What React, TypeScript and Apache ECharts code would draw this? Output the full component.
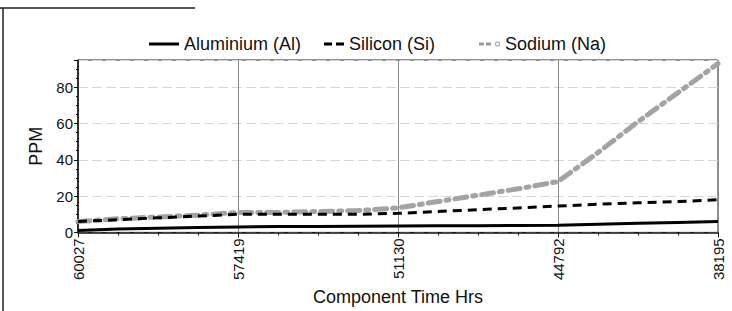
import React, { useEffect, useRef } from "react";
import * as echarts from "echarts";

const tickLabels = ["60027", "57419", "51130", "44792", "38195"];
const pointIndex = [0, 1, 2, 3, 4, 5, 6, 7, 8, 9, 10, 11, 12, 13, 14, 15, 16];
const aluminium = [1, 1.8, 2.3, 2.7, 3, 3.2, 3.3, 3.4, 3.5, 3.6, 3.7, 3.8, 4, 4.5, 5, 5.5, 6];
const silicon = [6, 7, 8, 9, 10, 10, 10, 10, 10.5, 11.5, 12.5, 13.5, 14.5, 15.5, 16.3, 17, 18];
const sodium = [6, 7.5, 8.5, 9.5, 11, 11, 11.5, 12, 13.5, 17, 20.5, 24, 28, 44, 61, 77, 93];

const FONT = "'Liberation Sans', Arial, sans-serif";

export default function App() {
  const ref = useRef<HTMLDivElement>(null);
  useEffect(() => {
    if (!ref.current) return;
    const chart = echarts.init(ref.current, undefined, { renderer: "svg" });
    const pair = (arr: number[]) => pointIndex.map((x, i) => [x, arr[i]]);
    const legendText = { fontFamily: FONT, fontSize: 18, color: "#111" };
    chart.setOption({
      animation: false,
      backgroundColor: "#fff",
      textStyle: { fontFamily: FONT },
      graphic: [
        { type: "line", shape: { x1: 3, y1: 8, x2: 3, y2: 311 }, style: { stroke: "#222", lineWidth: 1.5 } },
        { type: "line", shape: { x1: 0, y1: 8, x2: 195, y2: 8 }, style: { stroke: "#222", lineWidth: 1.5 } },
      ],
      legend: [
        {
          data: [{ name: "Aluminium (Al)", icon: "path://M0,0h30v3h-30z", itemStyle: { color: "#000" } }],
          left: 144, top: 30, itemWidth: 30, itemHeight: 3, textStyle: legendText,
        },
        {
          data: [{ name: "Silicon (Si)", icon: "path://M0,0h8v3h-8z M12,0h8v3h-8z", itemStyle: { color: "#000" } }],
          left: 319, top: 30, itemWidth: 20, itemHeight: 3, textStyle: legendText,
        },
        {
          data: [{
            name: "Sodium (Na)",
            icon: "path://M0,1h5v3h-5z M7,1h5v3h-5z M16,2.5a2.5,2.5 0 1,0 5,0a2.5,2.5 0 1,0 -5,0z M17,2.5a1.5,1.5 0 1,1 3,0a1.5,1.5 0 1,1 -3,0z",
            itemStyle: { color: "#9a9a9a" },
          }],
          left: 474, top: 30, itemWidth: 21, itemHeight: 5, textStyle: legendText,
        },
      ],
      grid: { left: 78, right: 14, top: 60, bottom: 78, show: true, borderColor: "#222", borderWidth: 1 },
      xAxis: {
        type: "value",
        min: 0,
        max: 16,
        interval: 4,
        name: "Component Time Hrs",
        nameLocation: "middle",
        nameGap: 51,
        nameTextStyle: { fontFamily: FONT, fontSize: 18, color: "#111" },
        axisLine: { lineStyle: { color: "#111", width: 1.5 } },
        axisTick: { show: true, length: 5, lineStyle: { color: "#111" } },
        minorTick: { show: true, splitNumber: 4, length: 3, lineStyle: { color: "#111" } },
        axisLabel: {
          rotate: 90,
          fontSize: 15,
          color: "#111",
          fontFamily: FONT,
          margin: 6,
          formatter: (v: number) => tickLabels[Math.round(v / 4)] ?? "",
        },
        splitLine: { show: true, lineStyle: { color: "#8a8a8a", width: 1 } },
      },
      yAxis: {
        type: "value",
        min: 0,
        max: 95,
        interval: 20,
        name: "PPM",
        nameLocation: "middle",
        nameGap: 31,
        nameTextStyle: { fontFamily: FONT, fontSize: 18, color: "#111" },
        axisLine: { show: true, lineStyle: { color: "#111", width: 1.5 } },
        axisTick: { show: true, length: 4, lineStyle: { color: "#111" } },
        minorTick: { show: true, splitNumber: 4, length: 2, lineStyle: { color: "#111" } },
        axisLabel: {
          fontSize: 15,
          color: "#111",
          fontFamily: FONT,
          margin: 5,
          showMaxLabel: false,
          formatter: (v: number) => (v % 20 === 0 ? String(v) : ""),
        },
        splitLine: { show: true, lineStyle: { color: "#d6d6d6", width: 1, type: [10, 4] } },
      },
      series: [
        {
          name: "Aluminium (Al)",
          type: "line",
          data: pair(aluminium),
          showSymbol: false,
          symbol: "none",
          lineStyle: { color: "#000", width: 3 },
          itemStyle: { color: "#000" },
          z: 4,
        },
        {
          name: "Silicon (Si)",
          type: "line",
          data: pair(silicon),
          showSymbol: false,
          symbol: "none",
          lineStyle: { color: "#000", width: 3, type: [9, 6] },
          itemStyle: { color: "#000" },
          z: 3,
        },
        {
          name: "Sodium (Na)",
          type: "line",
          data: pair(sodium),
          showSymbol: false,
          symbol: "none",
          lineStyle: { color: "#a3a3a3", width: 5, type: [12, 6, 3, 6], cap: "round" },
          itemStyle: { color: "#a3a3a3" },
          z: 2,
        },
      ],
    });
    return () => chart.dispose();
  }, []);
  return (
    <div
      ref={ref}
      style={{ position: "fixed", left: 0, top: 0, width: 732, height: 311 }}
    />
  );
}
